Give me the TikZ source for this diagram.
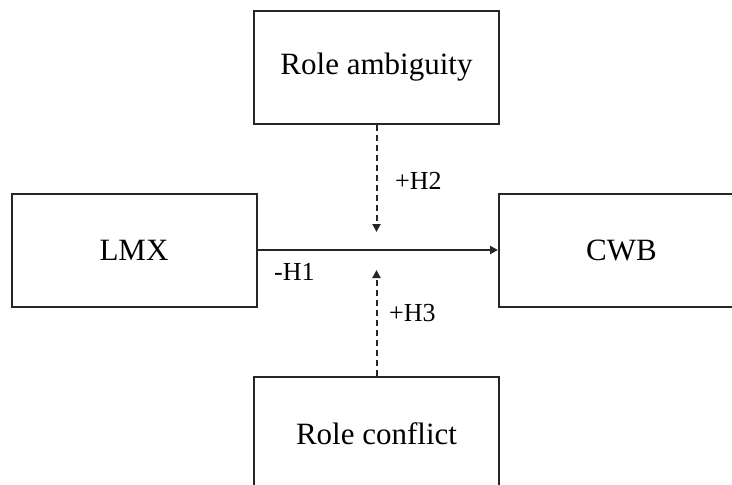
\documentclass[tikz,border=0pt]{standalone}
\usepackage{fontspec}
\setmainfont{Liberation Serif}
\usetikzlibrary{arrows.meta,positioning}
\tikzset{
  >={Triangle[length=8pt,width=8pt]},
  box/.style ={draw=black!85,line width=2pt,fill=white,align=center,
               minimum width=245pt,minimum height=113pt,inner sep=0pt,
               font=\fontsize{31}{36}\selectfont},
  ar/.style  ={->,line width=2pt,black!85},
  dar/.style ={ar,dash pattern=on 6pt off 4pt},
  lbl/.style ={font=\fontsize{26}{30}\selectfont,inner sep=0pt,anchor=west},
}
\begin{document}
\begin{tikzpicture}[x=1pt,y=-1pt]
\clip (0,0) rectangle (732,485);
\node[box] (lmx) at (134,250) {LMX};
\node[box] (cwb) at (621.5,250) {CWB};
\node[box] (amb) at (376.5,67) {Role ambiguity};
\node[box] (con) at (376.5,433.5) {Role conflict};
\coordinate (tipA) at (376.5,232);
\coordinate (tipC) at (376.5,270);
\draw[ar] (lmx.east) -- (cwb.west);
\draw[dar] (amb.south) -- (tipA);
\draw[dar] (con.north) -- (tipC);
\node[lbl] (h1) at (274,272) {-H1};
\node[lbl] (h2) at (395,181) {+H2};
\node[lbl] (h3) at (389,313) {+H3};
\end{tikzpicture}
\end{document}
